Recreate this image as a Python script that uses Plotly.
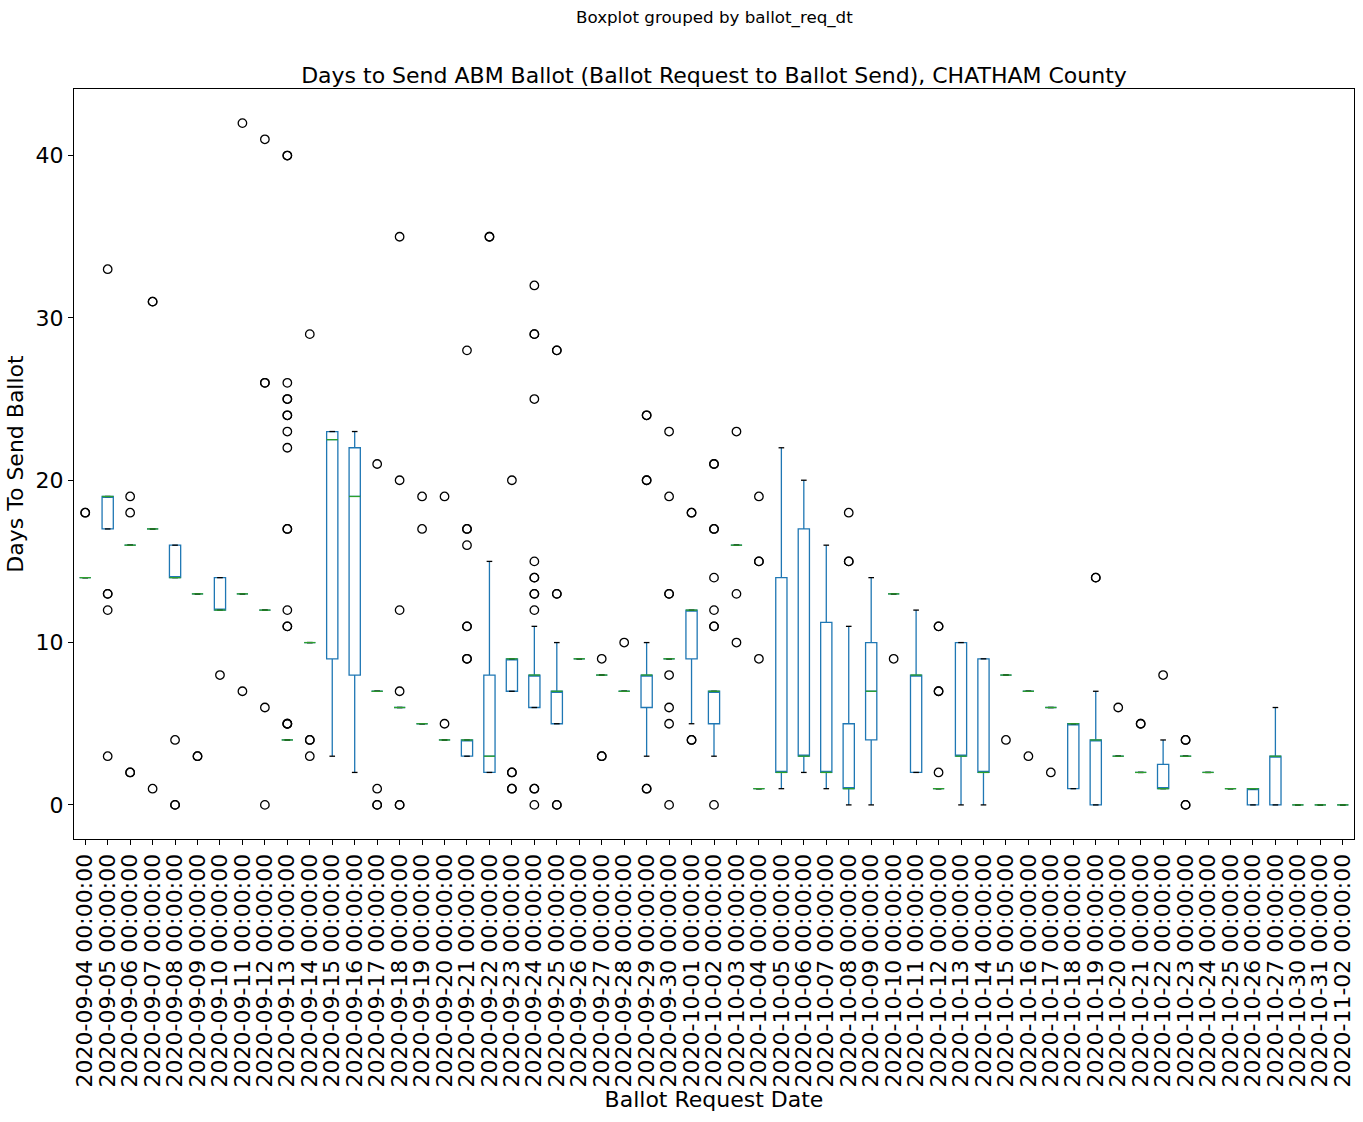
import plotly.graph_objects as go

dates = ["2020-09-04", "2020-09-05", "2020-09-06", "2020-09-07", "2020-09-08", "2020-09-09",
         "2020-09-10", "2020-09-11", "2020-09-12", "2020-09-13", "2020-09-14", "2020-09-15",
         "2020-09-16", "2020-09-17", "2020-09-18", "2020-09-19", "2020-09-20", "2020-09-21",
         "2020-09-22", "2020-09-23", "2020-09-24", "2020-09-25", "2020-09-26", "2020-09-27",
         "2020-09-28", "2020-09-29", "2020-09-30", "2020-10-01", "2020-10-02", "2020-10-03",
         "2020-10-04", "2020-10-05", "2020-10-06", "2020-10-07", "2020-10-08", "2020-10-09",
         "2020-10-10", "2020-10-11", "2020-10-12", "2020-10-13", "2020-10-14", "2020-10-15",
         "2020-10-16", "2020-10-17", "2020-10-18", "2020-10-19", "2020-10-20", "2020-10-21",
         "2020-10-22", "2020-10-23", "2020-10-24", "2020-10-25", "2020-10-26", "2020-10-27",
         "2020-10-30", "2020-10-31", "2020-11-02"]

q1 = [14, 17, 16, 17, 14, 13, 12, 13, 12, 4, 10, 9, 8, 7, 6, 5, 4, 3, 2, 7, 6, 5, 9, 8, 7, 6, 9, 9, 5,
      16, 1, 2, 3, 2, 1, 4, 13, 2, 1, 3, 2, 8, 7, 6, 1, 0, 3, 2, 1, 3, 2, 1, 0, 0, 0, 0, 0]
median = [14, 19, 16, 17, 14, 13, 12, 13, 12, 4, 10, 22.5, 19, 7, 6, 5, 4, 4, 3, 9, 8, 7, 9, 8, 7, 8, 9, 12, 7,
          16, 1, 2, 3, 2, 1, 7, 13, 8, 1, 3, 2, 8, 7, 6, 5, 4, 3, 2, 1, 3, 2, 1, 1, 3, 0, 0, 0]
q3 = [14, 19, 16, 17, 16, 13, 14, 13, 12, 4, 10, 23, 22, 7, 6, 5, 4, 4, 8, 9, 8, 7, 9, 8, 7, 8, 9, 12, 7,
      16, 1, 14, 17, 11.25, 5, 10, 13, 8, 1, 10, 9, 8, 7, 6, 5, 4, 3, 2, 2.5, 3, 2, 1, 1, 3, 0, 0, 0]
whisker_low = [14, 17, 16, 17, 14, 13, 12, 13, 12, 4, 10, 3, 2, 7, 6, 5, 4, 3, 2, 7, 6, 5, 9, 8, 7, 3, 9, 5, 3,
               16, 1, 1, 2, 1, 0, 0, 13, 2, 1, 0, 0, 8, 7, 6, 1, 0, 3, 2, 1, 3, 2, 1, 0, 0, 0, 0, 0]
whisker_high = [14, 19, 16, 17, 16, 13, 14, 13, 12, 4, 10, 23, 23, 7, 6, 5, 4, 4, 15, 9, 11, 10, 9, 8, 7, 10, 9, 12, 7,
                16, 1, 22, 20, 16, 11, 14, 13, 12, 1, 10, 9, 8, 7, 6, 5, 7, 3, 2, 4, 3, 2, 1, 1, 6, 0, 0, 0]
outliers = [
    [18, 18], [33, 13, 13, 12, 3], [19, 18, 2, 2], [31, 31, 1], [4, 0, 0], [3, 3], [8], [42, 7],
    [41, 26, 26, 6, 0],
    [40, 40, 26, 25, 25, 24, 24, 23, 22, 17, 17, 12, 11, 11, 5, 5, 5],
    [29, 4, 4, 3], [], [], [21, 1, 0, 0], [35, 20, 12, 7, 0, 0], [19, 17], [19, 5],
    [28, 17, 17, 16, 11, 11, 9, 9], [35, 35], [20, 2, 2, 1, 1],
    [32, 29, 29, 25, 15, 14, 14, 13, 13, 12, 1, 1, 0], [28, 28, 13, 13, 0, 0], [], [9, 3, 3], [10],
    [24, 24, 20, 20, 1, 1], [23, 19, 13, 13, 8, 6, 5, 0], [18, 18, 4, 4],
    [21, 21, 17, 17, 14, 12, 11, 11, 0], [23, 13, 10], [19, 15, 15, 9],
    [], [], [], [18, 15, 15], [], [9], [], [11, 11, 7, 7, 2], [], [], [4], [3], [2], [], [14, 14],
    [6], [5, 5], [8], [4, 4, 0, 0], [], [], [], [], [], [], []
]

labels = [d + " 00:00:00" for d in dates]
pos = list(range(1, len(dates) + 1))

BLUE = "#1f77b4"
GREEN = "#2ca02c"
FONT = "DejaVu Sans"

fig = go.Figure()
fig.add_trace(go.Box(
    x=pos, q1=q1, median=median, q3=q3,
    lowerfence=whisker_low, upperfence=whisker_high,
    width=0.5, whiskerwidth=0, boxpoints=False,
    fillcolor="rgba(0,0,0,0)", line=dict(color=BLUE, width=1.3),
    showlegend=False, hoverinfo="skip",
))

cap_x, cap_y = [], []
for p, lo, hi in zip(pos, whisker_low, whisker_high):
    for v in (lo, hi):
        cap_x += [p - 0.125, p + 0.125, None]
        cap_y += [v, v, None]
fig.add_trace(go.Scatter(x=cap_x, y=cap_y, mode="lines",
                         line=dict(color="black", width=1.3),
                         showlegend=False, hoverinfo="skip"))

med_x, med_y = [], []
for p, m in zip(pos, median):
    med_x += [p - 0.25, p + 0.25, None]
    med_y += [m, m, None]
fig.add_trace(go.Scatter(x=med_x, y=med_y, mode="lines",
                         line=dict(color=GREEN, width=1.3),
                         showlegend=False, hoverinfo="skip"))

out_x, out_y = [], []
for p, vals in zip(pos, outliers):
    for v in vals:
        out_x.append(p)
        out_y.append(v)
fig.add_trace(go.Scatter(x=out_x, y=out_y, mode="markers",
                         marker=dict(symbol="circle-open", size=8.5, color="black",
                                     line=dict(width=1.3, color="black")),
                         showlegend=False, hoverinfo="skip"))

axis_common = dict(
    showline=True, linecolor="black", linewidth=1.1, mirror=True,
    ticks="outside", ticklen=5, tickwidth=1.1, tickcolor="black",
    showgrid=False, zeroline=False, automargin=False,
    tickfont=dict(family=FONT, size=22, color="black"),
)

fig.update_layout(
    template="none",
    width=1363, height=1122,
    margin=dict(l=74, r=9, t=89, b=283),
    paper_bgcolor="white", plot_bgcolor="white",
    font=dict(family=FONT, color="black"),
    title=dict(text="Days to Send ABM Ballot (Ballot Request to Ballot Send), CHATHAM County",
               font=dict(family=FONT, size=22, color="black"),
               x=0.5, xref="paper", xanchor="center",
               y=1 - 75 / 1122, yref="container", yanchor="middle"),
    xaxis=dict(range=[0.5, 57.5], tickmode="array", tickvals=pos, ticktext=labels,
               tickangle=-90,
               title=dict(text="Ballot Request Date", font=dict(family=FONT, size=22, color="black"),
                          standoff=4),
               **axis_common),
    yaxis=dict(range=[-2.1, 44.1], tickmode="array", tickvals=[0, 10, 20, 30, 40],
               title=dict(text="Days To Send Ballot", font=dict(family=FONT, size=22, color="black"),
                          standoff=5),
               **axis_common),
    annotations=[dict(text="Boxplot grouped by ballot_req_dt", xref="paper", yref="paper",
                      x=0.5, y=(839 - 18) / 750, xanchor="center", yanchor="middle",
                      showarrow=False, font=dict(family=FONT, size=16.7, color="black"))],
)

fig.write_html("out.html")
